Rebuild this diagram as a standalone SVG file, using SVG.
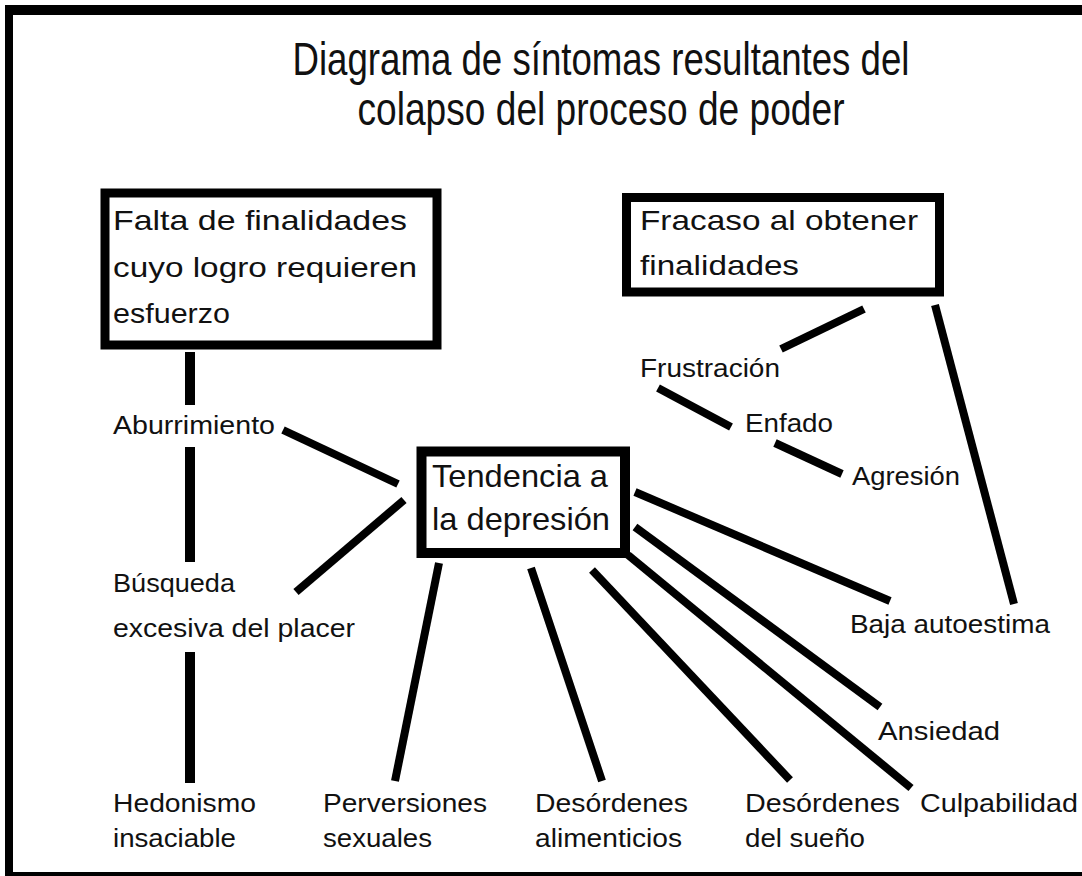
<svg xmlns="http://www.w3.org/2000/svg" width="1082" height="876" viewBox="0 0 1082 876">
<style>
text{font-family:"Liberation Sans",Arial,sans-serif;fill:#111}
.title{font-size:46px}
.box{fill:#fff;stroke:#000;stroke-width:9}
.bt{font-size:28px}
.bt3{font-size:32px}
.lb{font-size:26px}
.c line{stroke:#000;stroke-width:8;stroke-linecap:butt}
</style>
<rect x="0" y="0" width="1082" height="876" fill="#fff"/>
<g id="frame" fill="#000">
<rect x="5" y="5" width="1077" height="10"/>
<rect x="5" y="5" width="8" height="871"/>
<rect x="5" y="872" width="1077" height="4"/>
</g>
<g id="title">
<text class="title" x="601" y="75" text-anchor="middle" textLength="617" lengthAdjust="spacingAndGlyphs">Diagrama de síntomas resultantes del</text>
<text class="title" x="601" y="125" text-anchor="middle" textLength="487" lengthAdjust="spacingAndGlyphs">colapso del proceso de poder</text>
</g>
<g id="connectors" class="c">
<line x1="190" y1="352" x2="190" y2="405" style="stroke-width:10"/>
<line x1="190" y1="447" x2="190" y2="562" style="stroke-width:10"/>
<line x1="190" y1="652" x2="190" y2="783" style="stroke-width:10"/>
<line x1="283" y1="430" x2="398" y2="484"/>
<line x1="296" y1="592" x2="404" y2="500"/>
<line x1="864" y1="309" x2="781" y2="349"/>
<line x1="658" y1="388" x2="731" y2="427"/>
<line x1="775" y1="443" x2="842" y2="474"/>
<line x1="935" y1="305" x2="1014" y2="604"/>
<line x1="635" y1="492" x2="890" y2="601"/>
<line x1="635" y1="527" x2="880" y2="707"/>
<line x1="628" y1="555" x2="911" y2="788"/>
<line x1="592" y1="570" x2="790" y2="780"/>
<line x1="531" y1="568" x2="602" y2="781"/>
<line x1="439" y1="563" x2="395" y2="781"/>
</g>
<g id="falta">
<rect class="box" x="105" y="193" width="332" height="152"/>
<text class="bt" x="113" y="230" textLength="294" lengthAdjust="spacingAndGlyphs">Falta de finalidades</text>
<text class="bt" x="113" y="277" textLength="304" lengthAdjust="spacingAndGlyphs">cuyo logro requieren</text>
<text class="bt" x="113" y="323" textLength="117" lengthAdjust="spacingAndGlyphs">esfuerzo</text>
</g>
<g id="fracaso">
<rect class="box" x="626.5" y="197.5" width="313" height="94.5"/>
<text class="bt" x="640" y="230" textLength="278" lengthAdjust="spacingAndGlyphs">Fracaso al obtener</text>
<text class="bt" x="640" y="275" textLength="159" lengthAdjust="spacingAndGlyphs">finalidades</text>
</g>
<g id="tendencia">
<rect class="box" x="421.5" y="451.5" width="203.5" height="101.5" style="stroke-width:10"/>
<text class="bt3" x="432" y="487" textLength="176" lengthAdjust="spacingAndGlyphs">Tendencia a</text>
<text class="bt3" x="432" y="530" textLength="178" lengthAdjust="spacingAndGlyphs">la depresión</text>
</g>
<g id="aburrimiento"><text class="lb" x="113" y="434" textLength="162" lengthAdjust="spacingAndGlyphs">Aburrimiento</text></g>
<g id="busqueda">
<text class="lb" x="113" y="592" textLength="122" lengthAdjust="spacingAndGlyphs">Búsqueda</text>
<text class="lb" x="113" y="637" textLength="242" lengthAdjust="spacingAndGlyphs">excesiva del placer</text>
</g>
<g id="hedonismo">
<text class="lb" x="113" y="812" textLength="143" lengthAdjust="spacingAndGlyphs">Hedonismo</text>
<text class="lb" x="113" y="847" textLength="123" lengthAdjust="spacingAndGlyphs">insaciable</text>
</g>
<g id="perversiones">
<text class="lb" x="323" y="812" textLength="164" lengthAdjust="spacingAndGlyphs">Perversiones</text>
<text class="lb" x="323" y="847" textLength="109" lengthAdjust="spacingAndGlyphs">sexuales</text>
</g>
<g id="alimenticios">
<text class="lb" x="535" y="812" textLength="153" lengthAdjust="spacingAndGlyphs">Desórdenes</text>
<text class="lb" x="535" y="847" textLength="147" lengthAdjust="spacingAndGlyphs">alimenticios</text>
</g>
<g id="sueno">
<text class="lb" x="745" y="812" textLength="155" lengthAdjust="spacingAndGlyphs">Desórdenes</text>
<text class="lb" x="745" y="847" textLength="120" lengthAdjust="spacingAndGlyphs">del sueño</text>
</g>
<g id="culpabilidad"><text class="lb" x="920" y="812" textLength="158" lengthAdjust="spacingAndGlyphs">Culpabilidad</text></g>
<g id="ansiedad"><text class="lb" x="878" y="740" textLength="122" lengthAdjust="spacingAndGlyphs">Ansiedad</text></g>
<g id="baja"><text class="lb" x="850" y="633" textLength="200" lengthAdjust="spacingAndGlyphs">Baja autoestima</text></g>
<g id="frustracion"><text class="lb" x="640" y="377" textLength="140" lengthAdjust="spacingAndGlyphs">Frustración</text></g>
<g id="enfado"><text class="lb" x="745" y="432" textLength="88" lengthAdjust="spacingAndGlyphs">Enfado</text></g>
<g id="agresion"><text class="lb" x="852" y="485" textLength="108" lengthAdjust="spacingAndGlyphs">Agresión</text></g>
</svg>
